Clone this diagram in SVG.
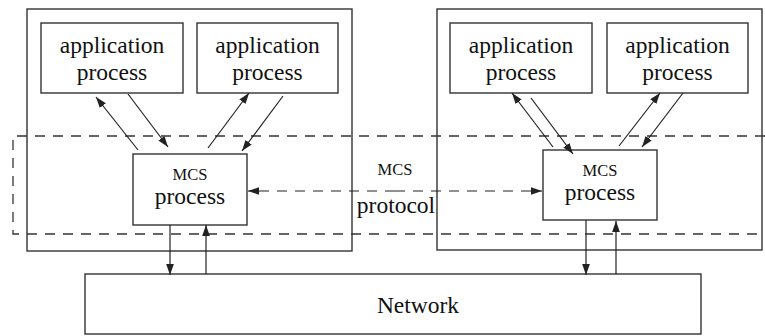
<svg xmlns="http://www.w3.org/2000/svg" width="765" height="336" viewBox="0 0 765 336">
<defs>
<marker id="ah" viewBox="0 0 10 10" refX="10" refY="5" markerWidth="11" markerHeight="11" markerUnits="userSpaceOnUse" orient="auto">
<path d="M0,1.5 L10,5 L0,8.5 Z" fill="#222"/>
</marker>
<style>
.box{fill:none;stroke:#333;stroke-width:1.4}
.dash{fill:none;stroke:#333;stroke-width:1.3;stroke-dasharray:10 8}
.ln{fill:none;stroke:#222;stroke-width:1.2;marker-end:url(#ah)}
.t{font-family:"Liberation Serif","Times New Roman",serif;fill:#111;text-anchor:middle}
.big{font-size:23.5px}
.sm{font-size:16.5px}
</style>
</defs>
<rect width="765" height="336" fill="#fff"/>
<g id="host-left"><rect class="box" x="27" y="9" width="325" height="242"/></g>
<g id="host-right"><rect class="box" x="437" y="9" width="325" height="241"/></g>
<g id="mcs-layer"><path class="dash" d="M765,136 H13 V234 H765"/></g>
<g id="app1"><rect class="box" x="41" y="23" width="142" height="70"/>
<text class="t big" x="112" y="53">application</text><text class="t big" x="112" y="80">process</text></g>
<g id="app2"><rect class="box" x="197" y="23" width="141" height="70"/>
<text class="t big" x="267.5" y="53">application</text><text class="t big" x="267.5" y="80">process</text></g>
<g id="app3"><rect class="box" x="450" y="23" width="142" height="70"/>
<text class="t big" x="521" y="53">application</text><text class="t big" x="521" y="80">process</text></g>
<g id="app4"><rect class="box" x="607" y="23" width="141" height="70"/>
<text class="t big" x="677.5" y="53">application</text><text class="t big" x="677.5" y="80">process</text></g>
<g id="mcs-left"><rect class="box" x="133" y="154" width="114" height="71"/>
<text class="t sm" x="190" y="180">MCS</text><text class="t big" x="190" y="204">process</text></g>
<g id="mcs-right"><rect class="box" x="543" y="150" width="114" height="70"/>
<text class="t sm" x="600" y="176">MCS</text><text class="t big" x="600" y="200">process</text></g>
<g id="network"><rect class="box" x="85" y="274" width="616" height="60"/>
<text class="t big" x="418" y="313">Network</text></g>
<g id="protocol-label"><text class="t sm" x="395" y="175">MCS</text><text class="t big" x="396" y="213">protocol</text></g>
<g id="connectors">
<line class="ln" x1="138" y1="150" x2="96" y2="97"/>
<line class="ln" x1="128" y1="94" x2="168" y2="147"/>
<line class="ln" x1="208" y1="148" x2="249" y2="93"/>
<line class="ln" x1="283" y1="96" x2="242" y2="151"/>
<line class="ln" x1="553" y1="147" x2="512" y2="93"/>
<line class="ln" x1="531" y1="98" x2="573" y2="154"/>
<line class="ln" x1="619" y1="146" x2="660" y2="93"/>
<line class="ln" x1="683" y1="93" x2="642" y2="147"/>
<line class="ln" x1="170" y1="225" x2="170" y2="275"/>
<line class="ln" x1="206" y1="274" x2="206" y2="225"/>
<line class="ln" x1="586" y1="220" x2="586" y2="275"/>
<line class="ln" x1="616" y1="274" x2="616" y2="221"/>
<line class="ln" x1="395" y1="191" x2="248" y2="191" style="stroke-dasharray:10 8"/>
<line class="ln" x1="395" y1="191" x2="542" y2="191" style="stroke-dasharray:10 8"/>
</g>
</svg>
